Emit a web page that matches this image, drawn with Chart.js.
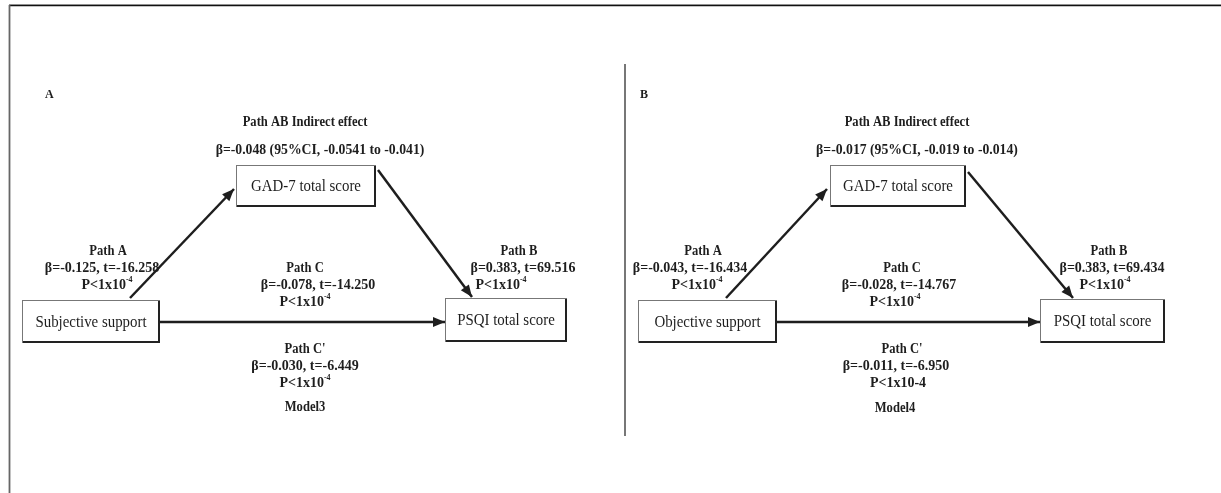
<!DOCTYPE html>
<html>
<head>
<meta charset="utf-8">
<script src="https://cdn.jsdelivr.net/npm/chart.js"></script>
<style>
  html, body { margin: 0; padding: 0; background: #fff; }
  #wrap { width: 1221px; height: 493px; }
</style>
</head>
<body>
<div id="wrap"><canvas id="diagram" width="1221" height="493"></canvas></div>
<script>
// ---- data ----
var panelLetters = ['A', 'B'];
var modelNames = ['Model3', 'Model4'];
var predictorNames = ['Subjective support', 'Objective support'];
var mediatorName = 'GAD-7 total score';
var outcomeName = 'PSQI total score';
var indirectBeta = ['-0.048', '-0.017'];
var indirectLow = ['-0.0541', '-0.019'];
var indirectHigh = ['-0.041', '-0.014'];
var pathABeta = ['-0.125', '-0.043'];
var pathAT = ['-16.258', '-16.434'];
var pathAP = ['1x10^-4', '1x10^-4'];
var pathBBeta = ['0.383', '0.383'];
var pathBT = ['69.516', '69.434'];
var pathBP = ['1x10^-4', '1x10^-4'];
var pathCBeta = ['-0.078', '-0.028'];
var pathCT = ['-14.250', '-14.767'];
var pathCP = ['1x10^-4', '1x10^-4'];
var pathCpBeta = ['-0.030', '-0.011'];
var pathCpT = ['-6.449', '-6.950'];
var pathCpP = ['1x10^-4', '1x10-4'];

// ---- layout (diagram units = reference pixels) ----
var layout = [
    {
        letter: [45, 95], heading: [305, 122], ci: [320, 150],
        med: [236, 165, 376, 207], pred: [22, 300, 160, 343], out: [445, 298, 567, 342],
        pathA: [[108, 251], [102, 268], [107, 285]],
        pathB: [[519, 251], [523, 268], [501, 285]],
        pathC: [[305, 268], [318, 285], [305, 302]],
        pathCp: [[305, 349], [305, 366], [305, 383]],
        model: [305, 407],
        arrA: [[130, 298], [234, 189]], arrB: [[378, 170], [472, 297]], arrC: [[160, 322], [445, 322]]
    },
    {
        letter: [640, 95], heading: [907, 122], ci: [917, 150],
        med: [830, 165, 966, 207], pred: [638, 300, 777, 343], out: [1040, 299, 1165, 343],
        pathA: [[703, 251], [690, 268], [697, 285]],
        pathB: [[1109, 251], [1112, 268], [1105, 285]],
        pathC: [[902, 268], [899, 285], [895, 302]],
        pathCp: [[902, 349], [896, 366], [898, 383]],
        model: [895, 408],
        arrA: [[726, 298], [827, 189]], arrB: [[968, 172], [1073, 298]], arrC: [[777, 322], [1040, 322]]
    }
];

var ink = '#1e1e1e';
var serif = '"Liberation Serif", "Times New Roman", serif';

function drawRich(ctx, str, x, y, size, bold, sx, align) {
    var parts = str.split('^');
    var fBase = (bold ? 'bold ' : '') + size + 'px ' + serif;
    var fSup = (bold ? 'bold ' : '') + Math.round(size * 0.6) + 'px ' + serif;
    ctx.font = fBase;
    var w1 = ctx.measureText(parts[0]).width;
    var w2 = 0;
    if (parts[1]) { ctx.font = fSup; w2 = ctx.measureText(parts[1]).width; }
    var total = (w1 + w2) * sx;
    var left = align === 'left' ? x : x - total / 2;
    ctx.save();
    ctx.translate(left, y);
    ctx.scale(sx, 1);
    ctx.fillStyle = ink;
    ctx.textBaseline = 'middle';
    ctx.textAlign = 'left';
    ctx.font = fBase;
    ctx.fillText(parts[0], 0, 0);
    if (parts[1]) { ctx.font = fSup; ctx.fillText(parts[1], w1, -size * 0.38); }
    ctx.restore();
}

var arrowList = [];
layout.forEach(function (L) { arrowList.push(L.arrA, L.arrB, L.arrC); });

var diagramPlugin = {
    id: 'diagram',
    beforeDatasetsDraw: function (chart) {
        var c = chart.ctx, sx = chart.scales.x, sy = chart.scales.y;
        var X = function (v) { return sx.getPixelForValue(v); };
        var Y = function (v) { return sy.getPixelForValue(v); };
        c.save();
        // outer frame
        c.strokeStyle = '#bbb'; c.lineWidth = 1;
        c.beginPath(); c.moveTo(X(9), Y(4) + 0.5); c.lineTo(X(1221), Y(4) + 0.5); c.stroke();
        c.strokeStyle = '#111'; c.lineWidth = 1.6;
        c.beginPath(); c.moveTo(X(9), Y(5.5)); c.lineTo(X(1221), Y(5.5)); c.stroke();
        c.strokeStyle = '#666'; c.lineWidth = 1.8;
        c.beginPath(); c.moveTo(X(9.5), Y(5)); c.lineTo(X(9.5), Y(493)); c.stroke();
        // divider
        c.strokeStyle = '#555'; c.lineWidth = 1.6;
        c.beginPath(); c.moveTo(X(625), Y(64)); c.lineTo(X(625), Y(436)); c.stroke();
        c.restore();
    },
    afterDatasetsDraw: function (chart) {
        var c = chart.ctx, sx = chart.scales.x, sy = chart.scales.y;
        var X = function (v) { return sx.getPixelForValue(v); };
        var Y = function (v) { return sy.getPixelForValue(v); };
        c.save();
        // arrow heads
        chart.data.datasets.forEach(function (ds) {
            var p0 = ds.data[0], p1 = ds.data[1];
            var x0 = X(p0.x), y0 = Y(p0.y), x1 = X(p1.x), y1 = Y(p1.y);
            var a = Math.atan2(y1 - y0, x1 - x0);
            var len = 12, half = 5;
            c.fillStyle = ink;
            c.beginPath();
            c.moveTo(x1, y1);
            c.lineTo(x1 - len * Math.cos(a) + half * Math.sin(a), y1 - len * Math.sin(a) - half * Math.cos(a));
            c.lineTo(x1 - len * Math.cos(a) - half * Math.sin(a), y1 - len * Math.sin(a) + half * Math.cos(a));
            c.closePath();
            c.fill();
        });
        function box(r, label) {
            var l = Math.round(X(r[0])), t = Math.round(Y(r[1]));
            var w = Math.round(X(r[2])) - l, h = Math.round(Y(r[3])) - t;
            c.fillStyle = '#fff';
            c.fillRect(l, t, w, h);
            c.strokeStyle = '#777'; c.lineWidth = 1;
            c.strokeRect(l + 0.5, t + 0.5, w - 1, h - 1);
            c.fillStyle = '#222';
            c.fillRect(l + w - 2, t + 1, 2, h - 1);
            c.fillRect(l + 1, t + h - 2, w - 1, 2);
            drawRich(c, label, l + w / 2, t + h / 2 + 1, 16, false, 0.93);
        }
        layout.forEach(function (L, i) {
            box(L.med, mediatorName);
            box(L.pred, predictorNames[i]);
            box(L.out, outcomeName);
            drawRich(c, panelLetters[i], X(L.letter[0]), Y(L.letter[1]), 12, true, 1, 'left');
            drawRich(c, 'Path AB Indirect effect', X(L.heading[0]), Y(L.heading[1]), 14, true, 0.9);
            drawRich(c, '\u03b2=' + indirectBeta[i] + ' (95%CI, ' + indirectLow[i] + ' to ' + indirectHigh[i] + ')',
                X(L.ci[0]), Y(L.ci[1]), 14, true, 0.98);
            var blocks = [
                ['Path A', pathABeta[i], pathAT[i], pathAP[i], L.pathA],
                ['Path B', pathBBeta[i], pathBT[i], pathBP[i], L.pathB],
                ['Path C', pathCBeta[i], pathCT[i], pathCP[i], L.pathC],
                ["Path C'", pathCpBeta[i], pathCpT[i], pathCpP[i], L.pathCp]
            ];
            blocks.forEach(function (b) {
                var pos = b[4];
                drawRich(c, b[0], X(pos[0][0]), Y(pos[0][1]), 14, true, 0.9);
                drawRich(c, '\u03b2=' + b[1] + ', t=' + b[2], X(pos[1][0]), Y(pos[1][1]), 14, true, 1.0);
                drawRich(c, 'P<' + b[3], X(pos[2][0]), Y(pos[2][1]), 14, true, 1.0);
            });
            drawRich(c, modelNames[i], X(L.model[0]), Y(L.model[1]), 14, true, 0.9);
        });
        c.restore();
    }
};

var ctx = document.getElementById('diagram');
var diagram = new Chart(ctx, {
    type: 'scatter',
    data: {
        datasets: arrowList.map(function (seg) {
            return {
                data: [{ x: seg[0][0], y: seg[0][1] }, { x: seg[1][0], y: seg[1][1] }],
                showLine: true,
                borderColor: ink,
                borderWidth: 2.5,
                pointRadius: 0,
                clip: false
            };
        })
    },
    options: {
        responsive: false,
        animation: false,
        events: [],
        layout: { padding: 0 },
        plugins: { legend: { display: false }, tooltip: { enabled: false } },
        scales: {
            x: { type: 'linear', min: 0, max: 1221, display: false },
            y: { type: 'linear', min: 0, max: 493, reverse: true, display: false }
        }
    },
    plugins: [diagramPlugin]
});
</script>
</body>
</html>
